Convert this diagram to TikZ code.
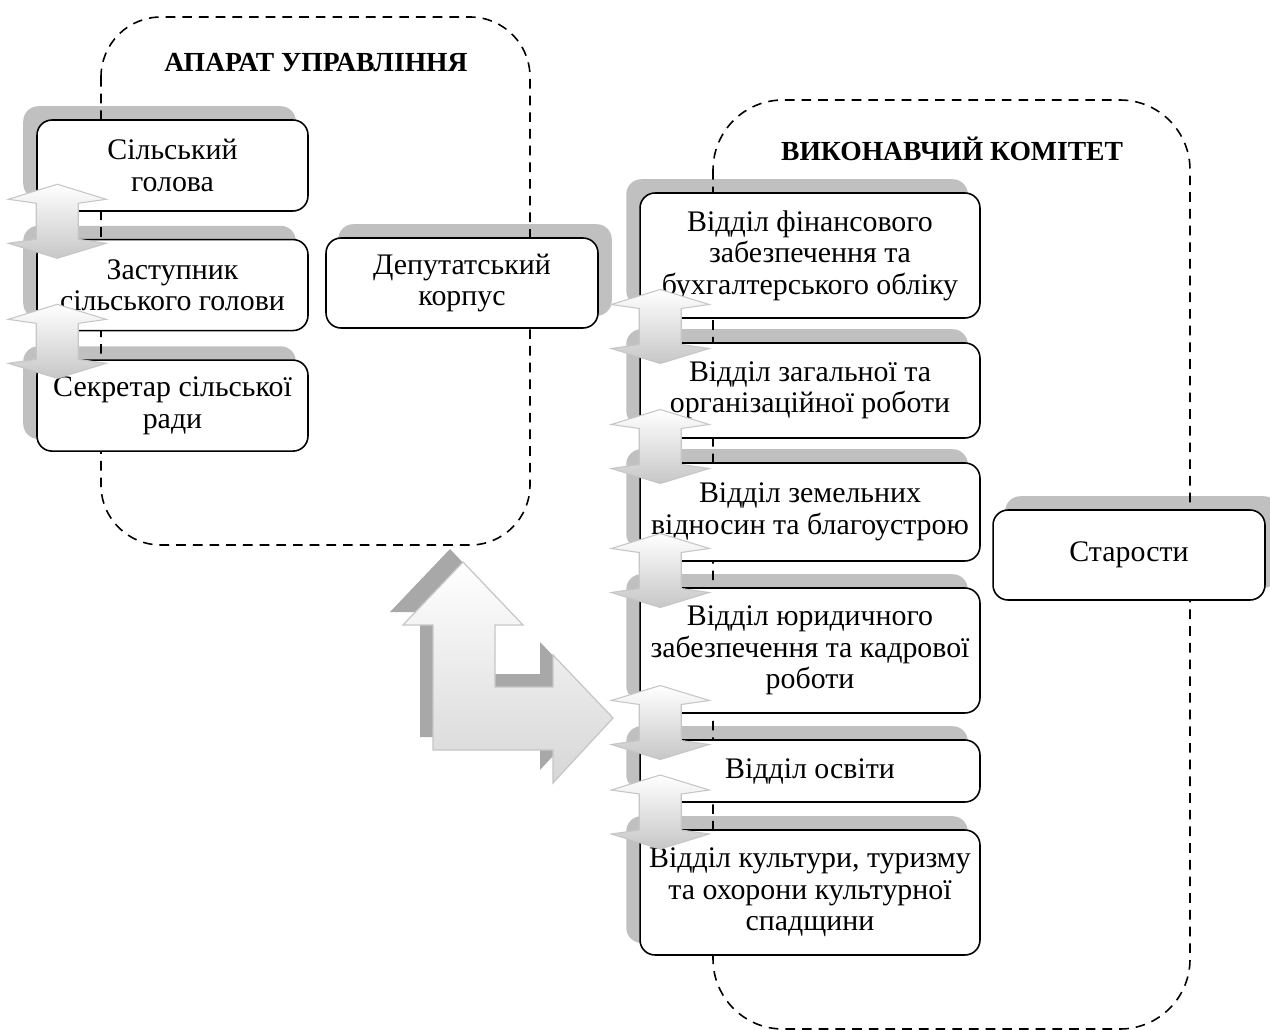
\documentclass[tikz,border=0pt]{standalone}
\usepackage{fontspec}
\setmainfont{Liberation Serif}
\usetikzlibrary{calc}
\usetikzlibrary{positioning}
\usetikzlibrary{backgrounds}

\pgfdeclarelayer{shade}
\pgfdeclarelayer{frame}
\pgfsetlayers{shade,frame,main}

\definecolor{shadegray}{HTML}{C0C0C0}
\definecolor{bentshade}{HTML}{A8A8A8}
\definecolor{arrowline}{HTML}{C6C6C6}

\tikzset{
  unitbox/.style={draw, fill=white, rounded corners=0.3cm, line width=0.9pt,
    align=center, inner sep=0pt, font=\fontsize{17}{17.9}\selectfont},
  leftbox/.style={unitbox, minimum width=5.42cm, minimum height=1.82cm},
  deptbox/.style={unitbox, minimum width=6.8cm},
  heading/.style={font=\fontsize{15.7}{18}\selectfont\bfseries},
  groupframe/.style={line width=0.9pt, dash pattern=on 5.5pt off 4pt},
  boxshade/.style={fill=shadegray, rounded corners=0.3cm},
  updown/.pic={
    \draw[arrowline, line width=0.6pt, top color=white, bottom color=black!22]
      (0,-37) -- (49,-22) -- (21,-18) -- (21,18) -- (49,22) -- (0,37)
      -- (-49,22) -- (-21,18) -- (-21,-18) -- (-49,-22) -- cycle;
  }
}

\begin{document}
\begin{tikzpicture}[x=0.02cm, y=-0.02cm]

  \useasboundingbox (0,0) rectangle (1270,1030);

  % group headings
  \node[heading] (aparat)   at (316,63)  {АПАРАТ УПРАВЛІННЯ};
  \node[heading] (vykonkom) at (952,149) {ВИКОНАВЧИЙ КОМІТЕТ};

  % left column
  \node[leftbox] (golova) at (172.5,165.5) {Сільський\\голова};
  \node[leftbox, below=0.54cm of golova] (zastupnyk) {Заступник\\сільського голови};
  \node[leftbox, below=0.56cm of zastupnyk] (sekretar) {Секретар сільської\\ради};
  \node[leftbox, minimum width=5.44cm, minimum height=1.8cm] (deputaty) at (462,283)
    {Депутатський\\корпус};

  % right column
  \node[deptbox, minimum height=2.5cm]  (finvid)  at (810,255.5)
    {Відділ фінансового\\забезпечення та\\бухгалтерського обліку};
  \node[deptbox, minimum height=1.9cm]  (zahvid)  at (810,390.5)
    {Відділ загальної та\\організаційної роботи};
  \node[deptbox, minimum height=1.96cm] (zemvid)  at (810,512)
    {Відділ земельних\\відносин та благоустрою};
  \node[deptbox, minimum height=2.5cm]  (yurvid)  at (810,650.5)
    {Відділ юридичного\\забезпечення та кадрової\\роботи};
  \node[deptbox, minimum height=1.24cm] (osvvid)  at (810,771)
    {Відділ освіти};
  \node[deptbox, minimum height=2.5cm]  (kultvid) at (810,892.5)
    {Відділ культури, туризму\\та охорони культурної\\спадщини};
  \node[leftbox, minimum width=5.44cm, minimum height=1.8cm] (starosty) at (1129,555)
    {Старости};

  % shadows
  \begin{pgfonlayer}{shade}
    \foreach \n in {golova,zastupnyk,sekretar,finvid,zahvid,zemvid,yurvid,osvvid,kultvid}
      \fill[boxshade] ($(\n.south west)+(-13,-13)$) rectangle ($(\n.north east)+(-13,-13)$);
    \foreach \n in {deputaty,starosty}
      \fill[boxshade] ($(\n.south west)+(13,-13)$) rectangle ($(\n.north east)+(13,-13)$);
  \end{pgfonlayer}

  % dashed groups
  \begin{pgfonlayer}{frame}
    \draw[groupframe, rounded corners=1.2cm] (101,17) rectangle (530,545);
    \draw[groupframe, rounded corners=1.4cm] (713,100) rectangle (1190,1029);
  \end{pgfonlayer}

  % links between neighbours
  \foreach \a/\b in {golova/zastupnyk,zastupnyk/sekretar,finvid/zahvid,zahvid/zemvid,
                     zemvid/yurvid,yurvid/osvvid,osvvid/kultvid}
    \pic at ($(\a.south west)!0.5!(\b.north west)+(21,-4)$) {updown};

  % bent arrow between the groups
  \fill[bentshade, shift={(-13,-13)}]
    (463,562) -- (523,625) -- (495,625) -- (495,687) -- (553,687) -- (553,655)
    -- (613,718) -- (553,783) -- (553,750) -- (433,750) -- (433,625) -- (403,625) -- cycle;
  \draw[arrowline, line width=0.7pt, top color=white, bottom color=black!16]
    (463,562) -- (523,625) -- (495,625) -- (495,687) -- (553,687) -- (553,655)
    -- (613,718) -- (553,783) -- (553,750) -- (433,750) -- (433,625) -- (403,625) -- cycle;

\end{tikzpicture}
\end{document}
